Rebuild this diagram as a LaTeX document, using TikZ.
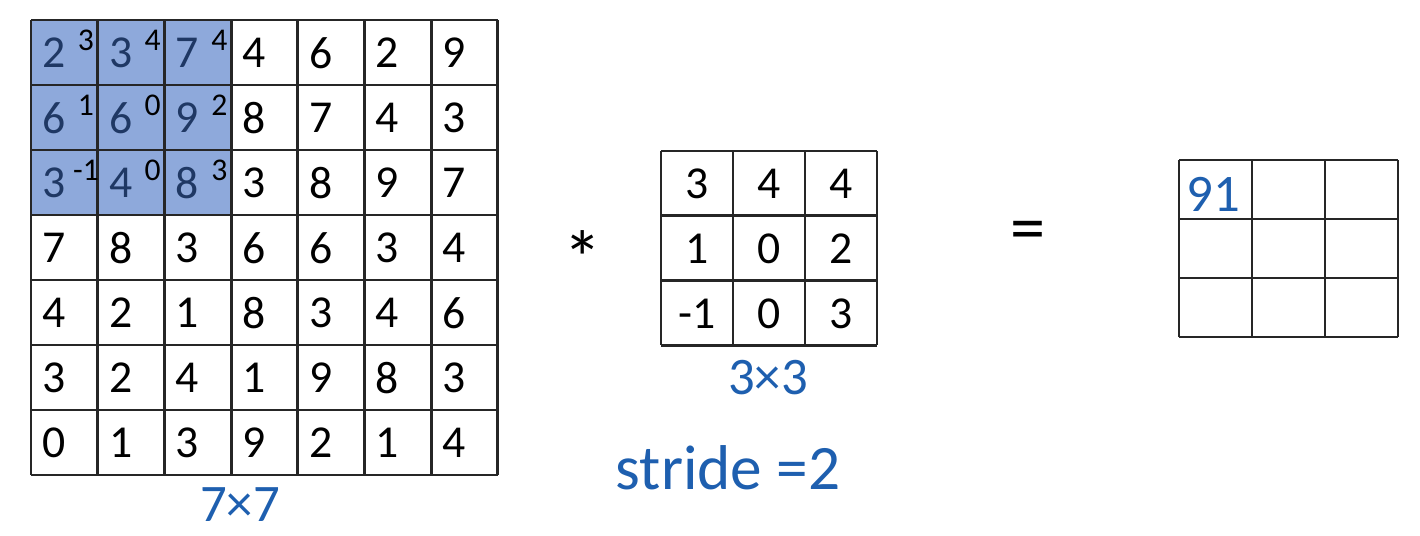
\documentclass[tikz,border=0pt]{standalone}
\usepackage{fontspec}
\setmainfont{Carlito}
\usepackage{tikz}
\usetikzlibrary{positioning}
\definecolor{winFill}{RGB}{142, 169, 219}
\definecolor{winText}{RGB}{31, 56, 100}
\definecolor{inkBlue}{RGB}{30, 95, 175}

\begin{document}
\begin{tikzpicture}[x=0.01cm, y=-0.01cm,
    gridline/.style={line width=0.8pt, black!85},
    digit/.style={inner sep=0pt, font=\fontsize{13}{15}\selectfont},
    wdigit/.style={inner sep=0pt, font=\fontsize{9}{10}\selectfont},
    ink/.style={inner sep=0pt, text=inkBlue}]
  \useasboundingbox (0,0) rectangle (1420,536);

  % Input 7x7
  \fill[winFill] (31,20) rectangle (232,215);
  \foreach \k in {0,...,7} {
    \draw[gridline] ({31+66.7*\k},20) -- ({31+66.7*\k},475);
    \draw[gridline] (31,{20+65*\k}) -- (498,{20+65*\k});
  }
  \foreach \row [count=\i from 0] in {{2,3,7,4,6,2,9},{6,6,9,8,7,4,3},{3,4,8,3,8,9,7},
      {7,8,3,6,6,3,4},{4,2,1,8,3,4,6},{3,2,4,1,9,8,3},{0,1,3,9,2,1,4}} {
    \foreach \v [count=\j from 0] in \row {
      \ifnum\i<3 \ifnum\j<3 \def\tc{winText}\else\def\tc{black}\fi\else\def\tc{black}\fi
      \node[digit, text=\tc] (in-\i-\j) at ({31+66.7*\j+23},{20+65*\i+33}) {\v};
    }
  }
  % filter weights on the window
  \foreach \row [count=\i from 0] in {{3,4,4},{1,0,2},{-1,0,3}} {
    \foreach \v [count=\j from 0] in \row {
      \node[wdigit] (w-\i-\j) at ({31+66.7*\j+55},{20+65*\i+20}) {\v};
    }
  }
  \node[ink, font=\fontsize{15}{17}\selectfont] (inSize) at (240,505) {7×7};

  \node[font=\fontsize{22}{24}\selectfont] (star) at (583,258) {*};

  % Filter 3x3
  \foreach \k in {0,...,3} {
    \draw[gridline] ({661+72*\k},151) -- ({661+72*\k},345);
    \draw[gridline] (661,{151+64.7*\k}) -- (877,{151+64.7*\k});
  }
  \foreach \row [count=\i from 0] in {{3,4,4},{1,0,2},{-1,0,3}} {
    \foreach \v [count=\j from 0] in \row {
      \node[digit] (f-\i-\j) at ({661+72*\j+36},{151+64.7*\i+33}) {\v};
    }
  }
  \node[ink, font=\fontsize{15}{17}\selectfont] (fSize) at (768,378) {3×3};
  \node[ink, font=\fontsize{18}{20}\selectfont] (stride) at (728,468) {stride =2};

  \node[font=\fontsize{20}{22}\selectfont] (eq) at (1028,236) {=};

  % Output 3x3
  \foreach \k in {0,...,3} {
    \draw[gridline] ({1179+73*\k},160) -- ({1179+73*\k},337);
    \draw[gridline] (1179,{160+59*\k}) -- (1398,{160+59*\k});
  }
  \node[ink, font=\fontsize{15}{17}\selectfont] (out-0-0) at (1213,194) {91};
\end{tikzpicture}
\end{document}
